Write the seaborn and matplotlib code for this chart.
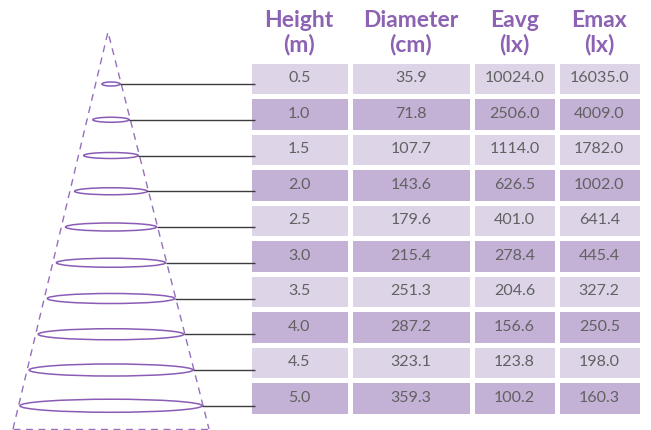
import numpy as np
import matplotlib
matplotlib.use("Agg")
import matplotlib.pyplot as plt
from matplotlib.colors import ListedColormap
from matplotlib.patches import Ellipse
import seaborn as sns

# ---- data ----
heights = [0.5, 1.0, 1.5, 2.0, 2.5, 3.0, 3.5, 4.0, 4.5, 5.0]
diameters = [35.9, 71.8, 107.7, 143.6, 179.6, 215.4, 251.3, 287.2, 323.1, 359.3]
eavg = [10024.0, 2506.0, 1114.0, 626.5, 401.0, 278.4, 204.6, 156.6, 123.8, 100.2]
emax = [16035.0, 4009.0, 1782.0, 1002.0, 641.4, 445.4, 327.2, 250.5, 198.0, 160.3]
header_top = ["Height", "Diameter", "Eavg", "Emax"]
header_bot = ["(m)", "(cm)", "(lx)", "(lx)"]

sns.set_theme(style="white")
plt.rcParams["font.family"] = ["Lato", "DejaVu Sans"]

W, H = 651, 430
fig = plt.figure(figsize=(W / 100, H / 100), dpi=100)
fig.patch.set_facecolor("white")

LIGHT = "#DDD4E8"
DARK = "#C4B2D6"
PURPLE = "#8C62B3"
CONE = "#9670BE"
TXT = "#616161"

# ---- table via seaborn heatmaps (one per column) ----
col_edges = [248.5, 350, 472, 557, 641.5]
row_top, row_bot = 60.5, 415.5
columns = [heights, diameters, eavg, emax]
parity = np.array([[i % 2] for i in range(len(heights))])
cmap = ListedColormap([LIGHT, DARK])
for i, vals in enumerate(columns):
    x0, x1 = col_edges[i], col_edges[i + 1]
    ax = fig.add_axes([x0 / W, (H - row_bot) / H, (x1 - x0) / W, (row_bot - row_top) / H])
    sns.heatmap(parity, ax=ax, cmap=cmap, vmin=0, vmax=1, cbar=False,
                annot=np.array(vals).reshape(-1, 1), fmt=".1f",
                annot_kws={"color": TXT, "fontsize": 11.5, "fontweight": "normal"},
                linewidths=2.2, linecolor="white",
                xticklabels=False, yticklabels=False)
    ax.set_xlabel("")
    ax.set_ylabel("")

# ---- overlay axes for cone, ellipses, headers ----
ax0 = fig.add_axes([0, 0, 1, 1])
ax0.set_xlim(0, W)
ax0.set_ylim(H, 0)
ax0.axis("off")
ax0.set_zorder(5)
ax0.patch.set_alpha(0)

cx = 111
apex = (108, 32)
base_y = 429
base_l, base_r = 13, 209
ax0.plot([base_l, apex[0], base_r], [base_y, apex[1], base_y], color=CONE,
         lw=1.0, dashes=(5, 4))
ax0.plot([base_l, base_r], [base_y - 0.5, base_y - 0.5], color=CONE, lw=1.0, dashes=(5, 4))

px_per_cm = 0.507
for h, d in zip(heights, diameters):
    y = 84 + (h - 0.5) * 71.5
    w = d * px_per_cm
    eh = 3 + 0.028 * d
    ax0.add_patch(Ellipse((cx, y), w, eh, fill=False, ec="#8A5CB6", lw=1.1))
    ax0.plot([cx + w / 2, 255], [y, y], color="#3C3C3C", lw=1.0, solid_capstyle="butt")

for i in range(4):
    xc = (col_edges[i] + col_edges[i + 1]) / 2
    ax0.text(xc, 27, header_top[i], ha="center", va="baseline", color=PURPLE,
             fontsize=16.5, fontweight="bold")
    ax0.text(xc, 51.5, header_bot[i], ha="center", va="baseline", color=PURPLE,
             fontsize=16.5, fontweight="bold")

fig.savefig("out.png", dpi=100, facecolor="white")
